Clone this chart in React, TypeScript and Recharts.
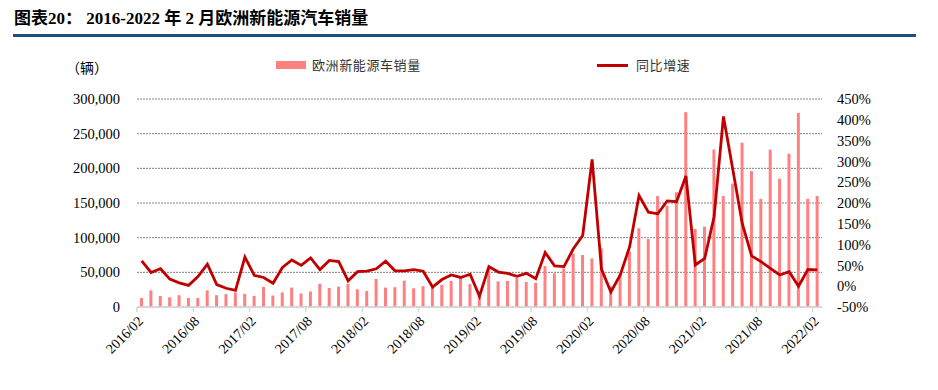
import React from "react";
import {
  ComposedChart,
  Bar,
  Line,
  XAxis,
  YAxis,
  CartesianGrid,
} from "recharts";

// ---- data ----
const MONTHS: string[] = [
  "2016/02","2016/03","2016/04","2016/05","2016/06","2016/07","2016/08","2016/09","2016/10","2016/11","2016/12",
  "2017/01","2017/02","2017/03","2017/04","2017/05","2017/06","2017/07","2017/08","2017/09","2017/10","2017/11","2017/12",
  "2018/01","2018/02","2018/03","2018/04","2018/05","2018/06","2018/07","2018/08","2018/09","2018/10","2018/11","2018/12",
  "2019/01","2019/02","2019/03","2019/04","2019/05","2019/06","2019/07","2019/08","2019/09","2019/10","2019/11","2019/12",
  "2020/01","2020/02","2020/03","2020/04","2020/05","2020/06","2020/07","2020/08","2020/09","2020/10","2020/11","2020/12",
  "2021/01","2021/02","2021/03","2021/04","2021/05","2021/06","2021/07","2021/08","2021/09","2021/10","2021/11","2021/12",
  "2022/01","2022/02",
];

const SALES: number[] = [
  13000, 24000, 16000, 14000, 17000, 13000, 13000, 24000, 17000, 18500, 21000,
  19000, 16000, 29000, 16500, 21000, 28000, 19500, 22500, 33500, 27500, 29500, 33500,
  25500, 23000, 40500, 28000, 28500, 38000, 27000, 30000, 28000, 32000, 37500, 41000,
  33000, 17000, 56000, 37000, 37500, 42000, 36000, 35000, 59000, 48500, 55500, 77000,
  75000, 70000, 84500, 30000, 48500, 80000, 113500, 98000, 160000, 146000, 165500, 281000,
  112500, 116000, 227000, 160000, 178000, 237000, 196000, 156000, 227000, 185000, 221000, 280000,
  156000, 160000,
];

const YOY: number[] = [
  61, 33, 42, 17, 8, 2, 23, 53, 4, -5, -10,
  70, 26, 21, 7, 45, 63, 50, 68, 40, 62, 59, 13,
  35, 36, 42, 60, 37, 37, 40, 36, -2, 16, 27, 21,
  29, -24, 47, 34, 31, 24, 31, 18, 81, 49, 47, 90,
  122, 305, 41, -14, 27, 95, 218, 178, 174, 205, 203, 265,
  51, 67, 167, 408, 280, 151, 73, 59, 43, 27, 35, 0,
  40, 39,
];

const LEFT_TICKS: number[] = [0, 50000, 100000, 150000, 200000, 250000, 300000];
const RIGHT_TICKS: number[] = [-50, 0, 50, 100, 150, 200, 250, 300, 350, 400, 450];

const TITLE = "图表20： 2016-2022 年 2 月欧洲新能源汽车销量";
const UNIT = "（辆）";
const BAR_NAME = "欧洲新能源车销量";
const LINE_NAME = "同比增速";

const data = MONTHS.map((m, i) => ({ month: m, sales: SALES[i], yoy: YOY[i] }));

// ---- style ----
const BAR_COLOR = "#FF8080";
const LINE_COLOR = "#C00000";
const SERIF = "'Liberation Serif', 'Times New Roman', serif";
const CJK = "'Noto Sans CJK SC', sans-serif";

const XTick = (props: any) => {
  const { x, y, payload, index } = props;
  const half =
    payload && typeof payload.offset === "number" && payload.offset > 0
      ? payload.offset
      : (props.width || 685) / MONTHS.length / 2;
  const bx = x - half;
  const axisY = y - 8;
  return (
    <g>
      <line x1={bx} y1={axisY} x2={bx} y2={axisY + 5} stroke="#d9d9d9" strokeWidth={1.5} />
      <text
        x={bx + 7}
        y={axisY + 15}
        transform={`rotate(-45, ${bx + 7}, ${axisY + 15})`}
        textAnchor="end"
        fontFamily={SERIF}
        fontSize={14}
        fill="#000"
      >
        {payload.value}
      </text>
    </g>
  );
};

export default function App() {
  return (
    <div
      style={{
        position: "absolute",
        left: 0,
        top: 0,
        width: 938,
        height: 390,
        background: "#fff",
        overflow: "hidden",
      }}
    >
      <div
        style={{
          position: "absolute",
          left: 14,
          top: 9,
          fontFamily: `${SERIF.replace(", serif", "")}, ${CJK}`,
          fontWeight: 700,
          fontSize: 17,
          color: "#000",
          whiteSpace: "pre",
          lineHeight: "20px",
        }}
      >
        {TITLE}
      </div>
      <div
        style={{
          position: "absolute",
          left: 13,
          top: 34,
          width: 903,
          height: 3,
          background: "#1F4E79",
        }}
      />
      <div
        style={{
          position: "absolute",
          left: 66,
          top: 58,
          fontFamily: CJK,
          fontSize: 14,
          color: "#000",
          lineHeight: "18px",
        }}
      >
        {UNIT}
      </div>
      <div
        style={{
          position: "absolute",
          left: 276,
          top: 57,
          display: "flex",
          alignItems: "center",
          fontFamily: CJK,
          fontSize: 13,
          letterSpacing: 0.6,
          color: "#333",
          lineHeight: "16px",
        }}
      >
        <span style={{ display: "inline-block", width: 30, height: 8, background: BAR_COLOR, marginRight: 6 }} />
        <span>{BAR_NAME}</span>
      </div>
      <div
        style={{
          position: "absolute",
          left: 597,
          top: 57,
          display: "flex",
          alignItems: "center",
          fontFamily: CJK,
          fontSize: 13,
          letterSpacing: 0.6,
          color: "#333",
          lineHeight: "16px",
        }}
      >
        <span style={{ display: "inline-block", width: 31, height: 3, background: LINE_COLOR, marginRight: 8 }} />
        <span>{LINE_NAME}</span>
      </div>
      <div style={{ position: "absolute", left: 0, top: 0 }}>
        <ComposedChart
          width={938}
          height={390}
          data={data}
          margin={{ top: 99, right: 0, bottom: 0, left: 0 }}
        >
          <CartesianGrid
            vertical={false}
            stroke="#808080"
            strokeDasharray="2 1"
            yAxisId="left"
          />
          <XAxis
            dataKey="month"
            height={83}
            interval={5}
            tickLine={false}
            tickSize={6}
            tickMargin={2}
            axisLine={{ stroke: "#d9d9d9", strokeWidth: 1.5 }}
            tick={<XTick />}
          />
          <YAxis
            yAxisId="left"
            orientation="left"
            width={137}
            domain={[0, 300000]}
            ticks={LEFT_TICKS}
            interval={0}
            axisLine={false}
            tickLine={false}
            tickSize={6}
            tickMargin={11}
            tickFormatter={(v: number) => v.toLocaleString("en-US")}
            tick={{ fontFamily: SERIF, fontSize: 14.5, fill: "#000" }}
          />
          <YAxis
            yAxisId="right"
            orientation="right"
            width={116}
            domain={[-50, 450]}
            ticks={RIGHT_TICKS}
            interval={0}
            axisLine={false}
            tickLine={false}
            tickSize={6}
            tickMargin={9}
            tickFormatter={(v: number) => `${v}%`}
            tick={{ fontFamily: SERIF, fontSize: 14.5, fill: "#000" }}
          />
          <Bar
            yAxisId="left"
            dataKey="sales"
            fill={BAR_COLOR}
            barSize={3}
            isAnimationActive={false}
          />
          <Line
            yAxisId="right"
            dataKey="yoy"
            stroke={LINE_COLOR}
            strokeWidth={2.8}
            dot={false}
            activeDot={false}
            type="linear"
            isAnimationActive={false}
          />
        </ComposedChart>
      </div>
    </div>
  );
}
